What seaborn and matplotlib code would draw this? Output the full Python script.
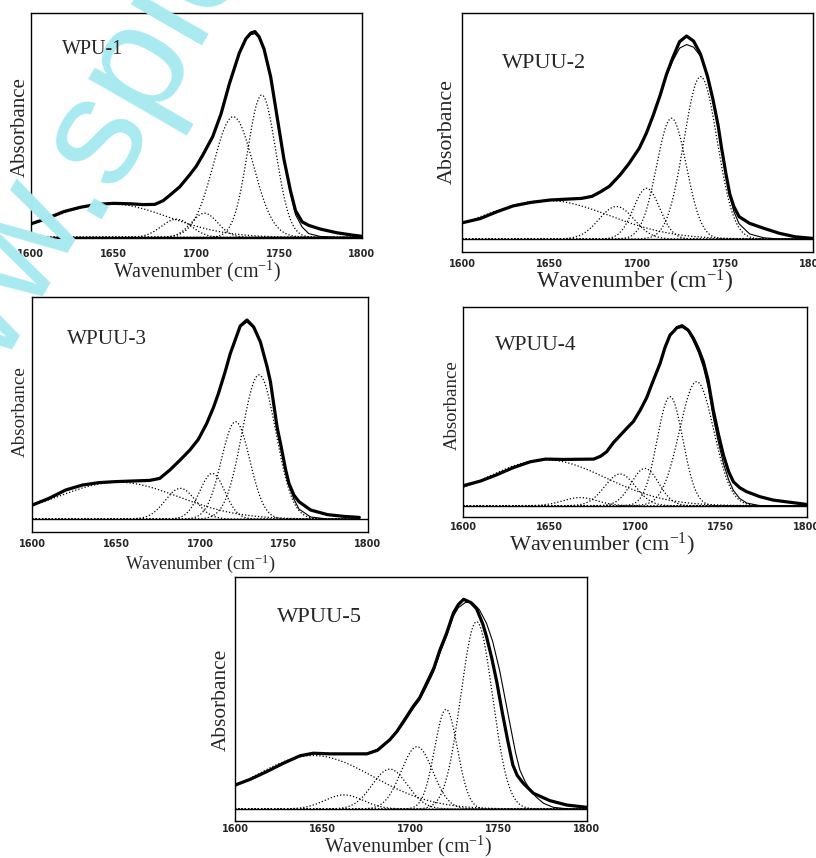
import numpy as np
import pandas as pd
import matplotlib
matplotlib.use("Agg")
import matplotlib.pyplot as plt
import seaborn as sns

# ---------------- data ----------------
sample_names = ["WPU-1", "WPUU-2", "WPUU-3", "WPUU-4", "WPUU-5"]
tick_values = [1600, 1650, 1700, 1750, 1800]
tick_labels = ["1600", "1650", "1700", "1750", "1800"]
minor_tick_values = [1625, 1675, 1725, 1775]

# panel 1 : WPU-1
wn_exp_1 = [1600, 1610, 1620, 1630, 1640, 1650, 1660, 1668, 1675, 1680, 1684, 1690, 1696, 1700, 1704, 1710,
            1715, 1720, 1726, 1730, 1733, 1735.5, 1738, 1741, 1745, 1749, 1753, 1757, 1760, 1764, 1768,
            1775, 1785, 1795, 1800]
abs_exp_1 = [0.065, 0.092, 0.125, 0.146, 0.160, 0.165, 0.163, 0.159, 0.160, 0.178, 0.204, 0.245, 0.303, 0.345,
             0.40, 0.49, 0.60, 0.745, 0.895, 0.965, 0.993, 1.0, 0.975, 0.915, 0.78, 0.58, 0.38, 0.225, 0.13,
             0.075, 0.058, 0.04, 0.022, 0.01, 0.005]
abs_fit_1 = [0.065, 0.092, 0.125, 0.146, 0.160, 0.165, 0.163, 0.159, 0.160, 0.178, 0.204, 0.245, 0.303, 0.345,
             0.40, 0.49, 0.60, 0.745, 0.895, 0.962, 0.985, 0.99, 0.97, 0.915, 0.78, 0.58, 0.38, 0.215, 0.11,
             0.05, 0.018, 0.004, 0.0, 0.0, 0.0]
peak_center_1 = [1648, 1688, 1705, 1722.4, 1739.6]
peak_height_1 = [0.163, 0.088, 0.117, 0.586, 0.692]
peak_sigma_1 = [35, 9, 8, 12, 8.5]

# panel 2 : WPUU-2
wn_exp_2 = [1600, 1610, 1620, 1629, 1639, 1650, 1661, 1668, 1674, 1679, 1684, 1690, 1695, 1701, 1705, 1709,
            1713, 1716.5, 1720, 1724, 1728, 1732, 1736, 1740, 1743, 1746, 1748, 1750.5, 1752.7, 1755, 1758,
            1764, 1772, 1781, 1790, 1800]
abs_exp_2 = [0.080, 0.10, 0.135, 0.163, 0.18, 0.192, 0.197, 0.20, 0.21, 0.233, 0.26, 0.315, 0.37, 0.447, 0.52,
             0.61, 0.71, 0.81, 0.89, 0.972, 1.0, 0.975, 0.91, 0.80, 0.69, 0.56, 0.447, 0.32, 0.22, 0.16, 0.11,
             0.077, 0.053, 0.028, 0.011, 0.003]
abs_fit_2 = [0.080, 0.10, 0.135, 0.163, 0.18, 0.192, 0.197, 0.20, 0.21, 0.233, 0.26, 0.315, 0.37, 0.447, 0.52,
             0.61, 0.71, 0.80, 0.875, 0.94, 0.958, 0.945, 0.90, 0.80, 0.69, 0.56, 0.447, 0.32, 0.21, 0.135,
             0.075, 0.025, 0.006, 0.0, 0.0, 0.0]
peak_center_2 = [1648, 1688, 1705.2, 1719.4, 1736]
peak_height_2 = [0.19, 0.16, 0.25, 0.595, 0.80]
peak_sigma_2 = [36, 10, 7.5, 8.5, 9.5]

# panel 3 : WPUU-3
wn_exp_3 = [1600, 1610, 1620, 1630, 1640, 1650, 1660, 1670, 1676, 1682, 1688, 1694, 1699, 1704, 1708, 1711,
            1715, 1718, 1721, 1724, 1728, 1732, 1736, 1740, 1742, 1746, 1748, 1751, 1753, 1756, 1759, 1766,
            1776, 1786, 1795]
abs_exp_3 = [0.070, 0.104, 0.146, 0.171, 0.183, 0.188, 0.191, 0.194, 0.204, 0.246, 0.295, 0.347, 0.40, 0.48,
             0.56, 0.631, 0.74, 0.83, 0.90, 0.97, 1.0, 0.965, 0.89, 0.765, 0.69, 0.46, 0.38, 0.25, 0.18, 0.12,
             0.087, 0.045, 0.022, 0.013, 0.008]
abs_fit_3 = [0.070, 0.104, 0.146, 0.171, 0.183, 0.188, 0.191, 0.194, 0.204, 0.246, 0.295, 0.347, 0.40, 0.48,
             0.56, 0.631, 0.74, 0.83, 0.90, 0.965, 0.99, 0.96, 0.89, 0.765, 0.69, 0.46, 0.38, 0.25, 0.17, 0.10,
             0.05, 0.01, 0.0, 0.0, 0.0]
peak_center_3 = [1651, 1688.3, 1707.3, 1721.2, 1735.2]
peak_height_3 = [0.185, 0.154, 0.229, 0.489, 0.724]
peak_sigma_3 = [36, 9, 7.5, 8.5, 10]

# panel 4 : WPUU-4
wn_exp_4 = [1600, 1610, 1619, 1629, 1639, 1648, 1658, 1668, 1676, 1680, 1683.5, 1687.4, 1691.3, 1697, 1699,
            1703, 1706.8, 1710, 1714.6, 1717.5, 1720.4, 1722.3, 1724.5, 1727.5, 1731, 1734, 1737, 1739.8,
            1742.5, 1745.6, 1748.5, 1751.5, 1754.5, 1757.3, 1761, 1765, 1772.8, 1780.6, 1790.3, 1800]
abs_exp_4 = [0.111, 0.137, 0.170, 0.211, 0.244, 0.259, 0.257, 0.258, 0.259, 0.275, 0.30, 0.35, 0.39, 0.448,
             0.467, 0.53, 0.60, 0.68, 0.79, 0.88, 0.948, 0.967, 0.99, 1.0, 0.975, 0.93, 0.87, 0.80, 0.70, 0.53,
             0.40, 0.281, 0.19, 0.133, 0.10, 0.078, 0.05, 0.031, 0.019, 0.007]
abs_fit_4 = [0.111, 0.137, 0.170, 0.211, 0.244, 0.259, 0.257, 0.258, 0.259, 0.275, 0.30, 0.35, 0.39, 0.448,
             0.467, 0.53, 0.60, 0.68, 0.79, 0.88, 0.948, 0.967, 0.985, 0.99, 0.97, 0.915, 0.85, 0.77, 0.665,
             0.49, 0.355, 0.235, 0.145, 0.085, 0.04, 0.015, 0.0, 0.0, 0.0, 0.0]
peak_center_4 = [1648, 1668, 1691.3, 1705.8, 1720.4, 1735.9]
peak_height_4 = [0.255, 0.045, 0.176, 0.207, 0.606, 0.689]
peak_sigma_4 = [35, 10, 9, 8, 7.5, 10]

# panel 5 : WPUU-5
wn_exp_5 = [1600, 1608.5, 1618, 1627.5, 1637, 1644.5, 1654, 1665, 1675, 1681, 1688, 1692, 1696, 1701.4, 1705,
            1709, 1713, 1716.6, 1720.4, 1724.2, 1727, 1730, 1734, 1737.4, 1741, 1743.1, 1746, 1749, 1752, 1755,
            1758, 1760.5, 1764, 1769.7, 1779, 1788.6, 1800]
abs_exp_5 = [0.114, 0.141, 0.178, 0.218, 0.254, 0.266, 0.263, 0.263, 0.263, 0.28, 0.33, 0.369, 0.42, 0.49,
             0.53, 0.60, 0.67, 0.76, 0.84, 0.935, 0.975, 1.0, 0.985, 0.955, 0.88, 0.82, 0.72, 0.60, 0.46, 0.33,
             0.21, 0.16, 0.122, 0.075, 0.04, 0.019, 0.008]
wn_fit_5 = [1600, 1608.5, 1618, 1627.5, 1637, 1644.5, 1654, 1665, 1675, 1681, 1688, 1692, 1696, 1701.4, 1705,
            1709, 1713, 1716.6, 1720.4, 1724.2, 1727, 1731, 1735, 1739, 1743, 1746.5, 1750.5, 1753.5, 1756.5,
            1759.5, 1762, 1765, 1768, 1771.5, 1775.5, 1781, 1790, 1800]
abs_fit_5 = [0.114, 0.141, 0.178, 0.218, 0.254, 0.266, 0.263, 0.263, 0.265, 0.285, 0.33, 0.365, 0.41, 0.48,
             0.52, 0.585, 0.655, 0.745, 0.825, 0.92, 0.96, 0.985, 0.985, 0.95, 0.886, 0.80, 0.66, 0.53, 0.40,
             0.27, 0.186, 0.13, 0.09, 0.055, 0.027, 0.008, 0.0, 0.0]
peak_center_5 = [1644.5, 1662, 1688, 1703.5, 1720, 1737.4]
peak_height_5 = [0.255, 0.067, 0.19, 0.297, 0.475, 0.893]
peak_sigma_5 = [34, 11, 10, 9, 6.5, 9]

# ---------------- layout (pixels of the 816 x 858 canvas) ----------------
W, H = 816, 858
boxes = [(30.7, 12.7, 361.7, 238.3), (462.3, 13.3, 812.7, 252.3), (32.3, 297.3, 367.7, 531.7),
         (463.3, 306.7, 806.7, 516.7), (235.0, 577.0, 586.7, 821.0)]
base_px = [237.3, 239.0, 519.0, 505.7, 809.0]
unit_px = [205.7, 203.0, 199.0, 180.0, 209.7]
tick_pad = [8.0, 4.5, 5.5, 3.5, 2.5]
title_pos = [(62, 50, 14.4), (502, 63, 16), (67, 340, 15.2), (495, 345, 15.6), (277, 618, 16.2)]
ylab_pos = [(20, 127, 15), (447, 132, 15.8), (20, 412, 13.7), (452, 405, 13.5), (221, 700, 15.4)]
# (x centre, baseline y, size)
xlab_pos = [(197, 277, 14.5), (635, 289, 17), (200, 569, 13), (602, 550, 16), (408, 852, 14.5)]

panels = [
    (wn_exp_1, abs_exp_1, wn_exp_1, abs_fit_1, peak_center_1, peak_height_1, peak_sigma_1),
    (wn_exp_2, abs_exp_2, wn_exp_2, abs_fit_2, peak_center_2, peak_height_2, peak_sigma_2),
    (wn_exp_3, abs_exp_3, wn_exp_3, abs_fit_3, peak_center_3, peak_height_3, peak_sigma_3),
    (wn_exp_4, abs_exp_4, wn_exp_4, abs_fit_4, peak_center_4, peak_height_4, peak_sigma_4),
    (wn_exp_5, abs_exp_5, wn_fit_5, abs_fit_5, peak_center_5, peak_height_5, peak_sigma_5),
]

sns.set_theme(style="white")
plt.rcParams["font.family"] = ["Liberation Serif", "DejaVu Sans"]
plt.rcParams["mathtext.fontset"] = "custom"
plt.rcParams["mathtext.rm"] = "Liberation Serif"
plt.rcParams["mathtext.it"] = "Liberation Serif:italic"

fig = plt.figure(figsize=(W / 100, H / 100), dpi=100)
fig.patch.set_facecolor("white")

for k, (wx, wy, fx, fy, pc, ph, ps) in enumerate(panels):
    l, t, r, b = boxes[k]
    ax = fig.add_axes([l / W, 1 - b / H, (r - l) / W, (b - t) / H])
    ax.set_facecolor("white")
    xmax = wx[-1]
    grid = np.linspace(1600, xmax, 600)
    for c, h, s in zip(pc, ph, ps):
        comp = h * np.exp(-((grid - c) ** 2) / (2 * s ** 2))
        sns.lineplot(x=grid, y=comp, ax=ax, color="black", lw=0.9,
                     linestyle=(0, (1, 1.6)), estimator=None, sort=False)
    ax.axhline(0, color="black", lw=1.0)
    sns.lineplot(x=wx, y=wy, ax=ax, color="black", lw=2.3, estimator=None, sort=False)
    sns.lineplot(x=fx, y=fy, ax=ax, color="black", lw=0.8, estimator=None, sort=False)

    ymin = -(b - base_px[k]) / unit_px[k]
    ymax = (base_px[k] - t) / unit_px[k]
    ax.set_xlim(1600, 1800)
    ax.set_ylim(ymin, ymax)
    ax.set_yticks([])
    ax.set_xticks(tick_values)
    ax.set_xticklabels(tick_labels, fontfamily="DejaVu Sans", fontweight="bold", fontsize=7)
    ax.tick_params(axis="x", direction="in", length=3, width=0.8, color="black", pad=tick_pad[k])
    if k == 0:
        ax.set_xticks(minor_tick_values, minor=True)
        ax.tick_params(axis="x", which="minor", direction="out", length=4, width=1.0, color="black")
    ax.set_xlabel("")
    ax.set_ylabel("")
    for sp in ax.spines.values():
        sp.set_visible(True)
        sp.set_color("black")
        sp.set_linewidth(1.0)

    tx, ty, tsz = title_pos[k]
    fig.text(tx / W, 1 - ty / H, sample_names[k], ha="left", va="center", fontsize=tsz)
    yx, yy, ysz = ylab_pos[k]
    fig.text(yx / W, 1 - yy / H, "Absorbance", ha="center", va="center", rotation=90, fontsize=ysz)
    xx, xy, xsz = xlab_pos[k]
    fig.text(xx / W, 1 - xy / H, "Wavenumber (cm$^{-1}$)", ha="center", va="baseline", fontsize=xsz)

# watermark (cyan, rotated) in the upper-left corner
wm_color = "#a8eaf0"
fig.text(88 / W, 1 - 219 / H, ".spichem", rotation=60, rotation_mode="anchor", ha="left",
         va="baseline", fontsize=111, color=wm_color, fontfamily="Liberation Sans", zorder=0.5)
fig.text(88 / W, 1 - 219 / H, "www", rotation=60, rotation_mode="anchor", ha="right",
         va="baseline", fontsize=111, color=wm_color, fontfamily="Liberation Sans", zorder=0.5)

fig.savefig("out.png", dpi=100, facecolor="white")
